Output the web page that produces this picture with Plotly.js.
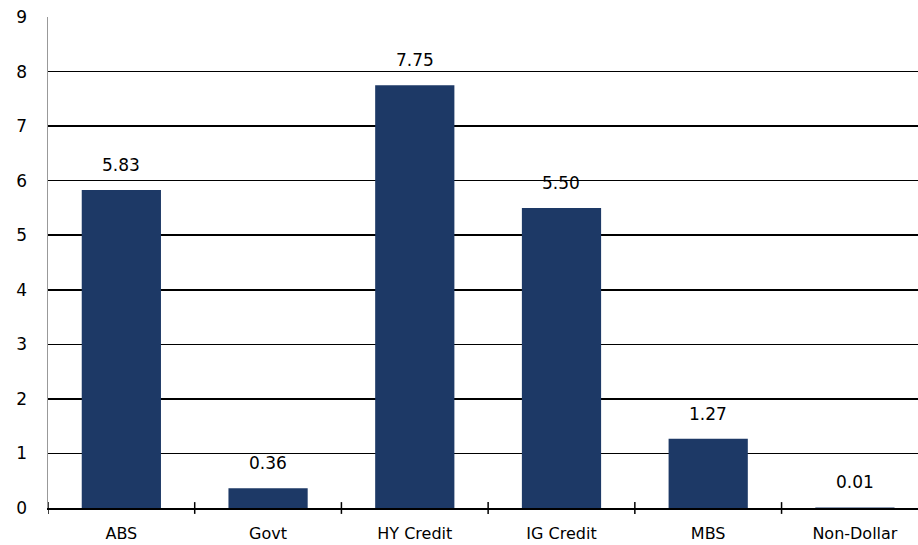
<!DOCTYPE html>
<html>
<head>
<meta charset="utf-8">
<script src="https://cdn.plot.ly/plotly-3.0.1.min.js"></script>
<style>html,body{margin:0;padding:0;background:#fff;}#chart{width:918px;height:545px;}</style>
</head>
<body>
<div id="chart"></div>
<script>
const categories = ["ABS", "Govt", "HY Credit", "IG Credit", "MBS", "Non-Dollar"];
const values = [5.83, 0.36, 7.75, 5.50, 1.27, 0.01];
const valueLabels = ["5.83", "0.36", "7.75", "5.50", "1.27", "0.01"];
const yTicks = [0, 1, 2, 3, 4, 5, 6, 7, 8, 9];

const font = {family: "DejaVu Sans", size: 17, color: "#000"};

const trace = {
  type: "bar",
  x: categories,
  y: values,
  width: 0.54,
  marker: {color: "#1d3966", line: {width: 0}},
  hoverinfo: "skip"
};

const annotations = categories.map((c, i) => ({
  x: c, y: values[i], xref: "x", yref: "y",
  text: valueLabels[i], showarrow: false,
  yanchor: "bottom", yshift: 13, font: font
}));

const shapes = categories.map((c, i) => ({
  type: "line", xref: "x", yref: "paper",
  x0: i - 0.5, x1: i - 0.5, y0: -0.012, y1: 0.012,
  line: {color: "#000", width: 1.5}
}));

const layout = {
  width: 918, height: 545,
  margin: {l: 48, r: 0, t: 17, b: 37, pad: 0},
  paper_bgcolor: "#fff", plot_bgcolor: "#fff",
  showlegend: false,
  font: font,
  xaxis: {
    type: "category",
    range: [-0.5, 5.43],
    showgrid: false,
    showline: true, linecolor: "#000", linewidth: 1.5,
    ticks: "", tickfont: {family: "DejaVu Sans", size: 16, color: "#000"},
    ticklabelstandoff: 10,
    zeroline: false
  },
  yaxis: {
    range: [0, 9],
    tickvals: yTicks,
    ticktext: yTicks.map(String),
    showgrid: true, gridcolor: "#000", gridwidth: 1.5,
    showline: true, linecolor: "#999", linewidth: 1.5,
    zeroline: false,
    ticks: "", tickfont: {family: "DejaVu Sans", size: 17, color: "#000"},
    ticklabelstandoff: 16
  },
  annotations: annotations,
  shapes: shapes
};

Plotly.newPlot("chart", [trace], layout, {displayModeBar: false, staticPlot: true});
</script>
</body>
</html>
